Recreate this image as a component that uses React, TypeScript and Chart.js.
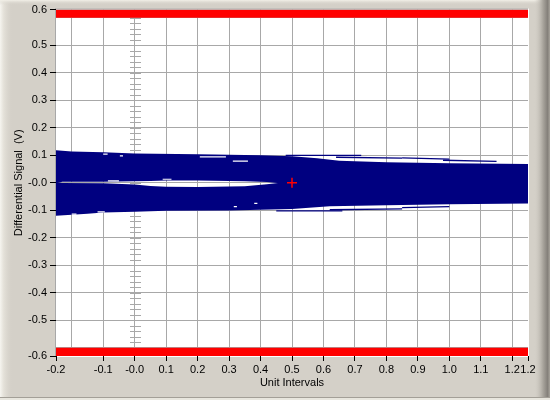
import React, { useEffect, useRef } from "react";
import { Chart, registerables } from "chart.js";

Chart.register(...registerables);

// ---- axes ----
const xMin = -0.25;
const xMax = 1.25;
const yMin = -0.63;
const yMax = 0.63;
const xTickValues = [-0.25, -0.2, -0.1, 0, 0.1, 0.2, 0.3, 0.4, 0.5, 0.6, 0.7, 0.8, 0.9, 1.0, 1.1, 1.2, 1.25];
const xTickLabels = ["-0.2", "", "-0.1", "-0.0", "0.1", "0.2", "0.3", "0.4", "0.5", "0.6", "0.7", "0.8", "0.9", "1.0", "1.1", "1.2", "1.2"];
const yTickValues = [-0.63, -0.6, -0.5, -0.4, -0.3, -0.2, -0.1, 0, 0.1, 0.2, 0.3, 0.4, 0.5, 0.6, 0.63];
const yTickLabels = ["-0.6", "", "-0.5", "-0.4", "-0.3", "-0.2", "-0.1", "-0.0", "0.1", "0.2", "0.3", "0.4", "0.5", "", "0.6"];
const xTitle = "Unit Intervals";
const yTitle = "Differential Signal  (V)";
const minorTickStep = 0.02;

// ---- mask ----
const maskLevel = 0.6;

// ---- eye envelopes ----
const upperOuterX = [-0.25, -0.2, -0.1, 0.0, 0.2, 0.4, 0.5, 0.58, 0.65, 0.8, 1.0, 1.25];
const upperOuterY = [0.118, 0.114, 0.111, 0.107, 0.104, 0.1, 0.097, 0.089, 0.08, 0.075, 0.071, 0.068];
const upperInnerX = [-0.25, -0.23, -0.1, 0.0, 0.05, 0.1, 0.2, 0.35, 0.42, 0.47, 1.25];
const upperInnerY = [-0.002, 0.004, 0.004, 0.006, 0.007, 0.008, 0.008, 0.006, 0.003, -0.003, -0.003];
const lowerInnerX = [-0.25, -0.23, -0.1, 0.0, 0.05, 0.1, 0.2, 0.35, 0.42, 0.47, 1.25];
const lowerInnerY = [0.002, -0.001, -0.002, -0.006, -0.012, -0.014, -0.015, -0.013, -0.005, 0.001, 0.001];
const lowerOuterX = [-0.25, -0.2, -0.15, -0.1, 0.0, 0.1, 0.3, 0.5, 0.62, 0.8, 1.0, 1.25];
const lowerOuterY = [-0.12, -0.116, -0.113, -0.108, -0.105, -0.102, -0.101, -0.095, -0.085, -0.082, -0.078, -0.075];

// thin navy traces outside the solid body: [x1, y1, x2, y2]
const navyStrands = [
  [0.48, 0.1, 0.72, 0.1],
  [0.64, 0.093, 0.85, 0.09],
  [0.85, 0.091, 1.0, 0.086],
  [0.98, 0.082, 1.15, 0.078],
  [0.45, -0.102, 0.66, -0.102],
  [0.62, -0.098, 0.85, -0.095],
  [0.85, -0.09, 1.0, -0.087],
];

// small white slits inside the body: [x1, x2, y]
const whiteSlits = [
  [-0.1, -0.086, 0.104],
  [-0.047, -0.037, 0.098],
  [0.089, 0.117, 0.013],
  [-0.2, -0.185, -0.114],
  [-0.118, -0.095, -0.106],
  [0.207, 0.29, 0.094],
  [0.312, 0.36, 0.079],
  [0.38, 0.39, -0.075],
  [0.315, 0.325, -0.087],
  [-0.085, -0.05, 0.007],
];

const markerPoint = { x: 0.5, y: 0.0 };

const NAVY = "#000080";
const RED = "#ff0000";
const GRID = "#a8a8a8";
const FONT = "'Liberation Sans', Arial, sans-serif";

const xy = (xs: number[], ys: number[]) => xs.map((x, i) => ({ x, y: ys[i] }));

const framePlugin = {
  id: "frame",
  beforeDraw(chart: any) {
    const { ctx, width, height, chartArea } = chart;
    ctx.save();
    ctx.fillStyle = "#d4d0c8";
    ctx.fillRect(0, 0, width, height);
    let g = ctx.createLinearGradient(0, 0, 13, 0);
    g.addColorStop(0, "#f6f5f0");
    g.addColorStop(0.25, "#e6e3db");
    g.addColorStop(1, "rgba(212,208,200,0)");
    ctx.fillStyle = g;
    ctx.fillRect(0, 0, 13, height);
    g = ctx.createLinearGradient(0, 0, 0, 5);
    g.addColorStop(0, "#f2f0e8");
    g.addColorStop(1, "rgba(212,208,200,0)");
    ctx.fillStyle = g;
    ctx.fillRect(0, 0, width, 5);
    g = ctx.createLinearGradient(534, 0, 550, 0);
    g.addColorStop(0, "rgba(212,208,200,0)");
    g.addColorStop(0.55, "#aaa69e");
    g.addColorStop(0.85, "#84807a");
    g.addColorStop(1, "#a8a49c");
    ctx.fillStyle = g;
    ctx.fillRect(534, 0, 16, height);
    ctx.fillStyle = "#a39f97";
    ctx.fillRect(0, 397, width, 1);
    ctx.fillStyle = "#e8e6de";
    ctx.fillRect(0, 398, width, 2);
    // plot area
    const { left, top, right, bottom } = chartArea;
    ctx.fillStyle = "#ffffff";
    ctx.fillRect(left, top, right - left, bottom - top);
    ctx.fillStyle = GRID;
    ctx.fillRect(left - 1, top - 1, right - left + 1, 1);
    ctx.fillRect(left - 1, top - 1, 1, bottom - top + 1);
    ctx.fillStyle = "#ffffff";
    ctx.fillRect(left - 1, bottom, right - left + 2, 1);
    ctx.fillRect(right, top - 1, 1, bottom - top + 2);
    ctx.restore();
  },
  beforeDatasetsDraw(chart: any) {
    const { ctx } = chart;
    const xs = chart.scales.x;
    const ys = chart.scales.y;
    const px = Math.round(xs.getPixelForValue(0));
    ctx.save();
    ctx.strokeStyle = GRID;
    ctx.lineWidth = 1;
    const n = Math.floor(maskLevel / minorTickStep + 1e-6);
    for (let k = -n; k <= n; k++) {
      const py = Math.round(ys.getPixelForValue(k * minorTickStep)) + 0.5;
      ctx.beginPath();
      ctx.moveTo(px - 5, py);
      ctx.lineTo(px + 6, py);
      ctx.stroke();
    }
    ctx.restore();
  },
};

export default function App() {
  const ref = useRef<HTMLCanvasElement | null>(null);
  useEffect(() => {
    if (!ref.current) return;
    const hidden = { borderWidth: 0, pointRadius: 0, fill: false, borderColor: "rgba(0,0,0,0)" };
    const datasets: any[] = [];
    // red mask bands
    datasets.push({
      data: [{ x: xMin, y: maskLevel }, { x: xMax, y: maskLevel }],
      borderWidth: 0, pointRadius: 0, fill: "end", backgroundColor: RED, borderColor: RED, order: 5,
    });
    datasets.push({
      data: [{ x: xMin, y: -maskLevel }, { x: xMax, y: -maskLevel }],
      borderWidth: 0, pointRadius: 0, fill: "start", backgroundColor: RED, borderColor: RED, order: 5,
    });
    // upper band
    datasets.push({
      data: xy(upperOuterX, upperOuterY), borderWidth: 0, pointRadius: 0,
      fill: "+1", backgroundColor: NAVY, borderColor: NAVY, order: 4,
    });
    datasets.push({ data: xy(upperInnerX, upperInnerY), ...hidden, order: 4 });
    // lower band
    datasets.push({
      data: xy(lowerInnerX, lowerInnerY), borderWidth: 0, pointRadius: 0,
      fill: "+1", backgroundColor: NAVY, borderColor: NAVY, order: 4,
    });
    datasets.push({ data: xy(lowerOuterX, lowerOuterY), ...hidden, order: 4 });
    navyStrands.forEach(([x1, y1, x2, y2]) => {
      datasets.push({
        data: [{ x: x1, y: y1 }, { x: x2, y: y2 }],
        borderColor: NAVY, borderWidth: 1.3, pointRadius: 0, fill: false, order: 3,
      });
    });
    whiteSlits.forEach(([x1, x2, y]) => {
      datasets.push({
        data: [{ x: x1, y }, { x: x2, y }],
        borderColor: "#ffffff", borderWidth: 1.2, pointRadius: 0, fill: false, order: 2,
      });
    });
    datasets.push({
      data: [markerPoint], showLine: false, pointStyle: "cross", pointRadius: 5,
      pointBorderColor: RED, pointBackgroundColor: RED, pointBorderWidth: 1.5, borderColor: RED, order: 0,
    });

    const tickFont = { family: FONT, size: 11 };
    const chart = new Chart(ref.current, {
      type: "line",
      data: { datasets },
      plugins: [framePlugin],
      options: {
        animation: false,
        responsive: false,
        devicePixelRatio: 1,
        layout: { padding: { top: 9, right: 22, left: 0, bottom: 0 } },
        plugins: { legend: { display: false }, tooltip: { enabled: false } },
        elements: { line: { tension: 0 } },
        scales: {
          x: {
            type: "linear",
            min: xMin,
            max: xMax,
            afterBuildTicks: (s: any) => { s.ticks = xTickValues.map((v) => ({ value: v })); },
            afterFit: (s: any) => { s.height = 44; },
            border: { display: false },
            grid: {
              color: (c: any) => (c.index === 0 || c.index === xTickValues.length - 1 ? "rgba(0,0,0,0)" : GRID),
              tickColor: (c: any) => (xTickLabels[c.index] ? "#000000" : "rgba(0,0,0,0)"),
              tickLength: 5,
              lineWidth: 1,
            },
            ticks: {
              autoSkip: false, maxRotation: 0, minRotation: 0, color: "#000000", font: tickFont, padding: 2,
              callback: (_v: any, i: number) => xTickLabels[i],
            },
            title: { display: true, text: xTitle, color: "#000000", font: tickFont, padding: { top: 0, bottom: 10 } },
          },
          y: {
            type: "linear",
            min: yMin,
            max: yMax,
            afterBuildTicks: (s: any) => { s.ticks = yTickValues.map((v) => ({ value: v })); },
            afterFit: (s: any) => { s.width = 56; },
            border: { display: false },
            grid: {
              color: (c: any) => (c.index === 0 || c.index === yTickValues.length - 1 ? "rgba(0,0,0,0)" : GRID),
              tickColor: (c: any) => (yTickLabels[c.index] ? "#000000" : "rgba(0,0,0,0)"),
              tickLength: 6,
              lineWidth: 1,
            },
            ticks: {
              autoSkip: false, color: "#000000", font: tickFont, padding: 3,
              callback: (_v: any, i: number) => yTickLabels[i],
            },
            title: { display: true, text: yTitle, color: "#000000", font: tickFont, padding: { top: 12, bottom: 0 } },
          },
        },
      } as any,
    });
    return () => chart.destroy();
  }, []);
  return (
    <div style={{ position: "absolute", left: 0, top: 0, width: 550, height: 400 }}>
      <canvas ref={ref} width={550} height={400} style={{ display: "block", width: 550, height: 400 }} />
    </div>
  );
}
